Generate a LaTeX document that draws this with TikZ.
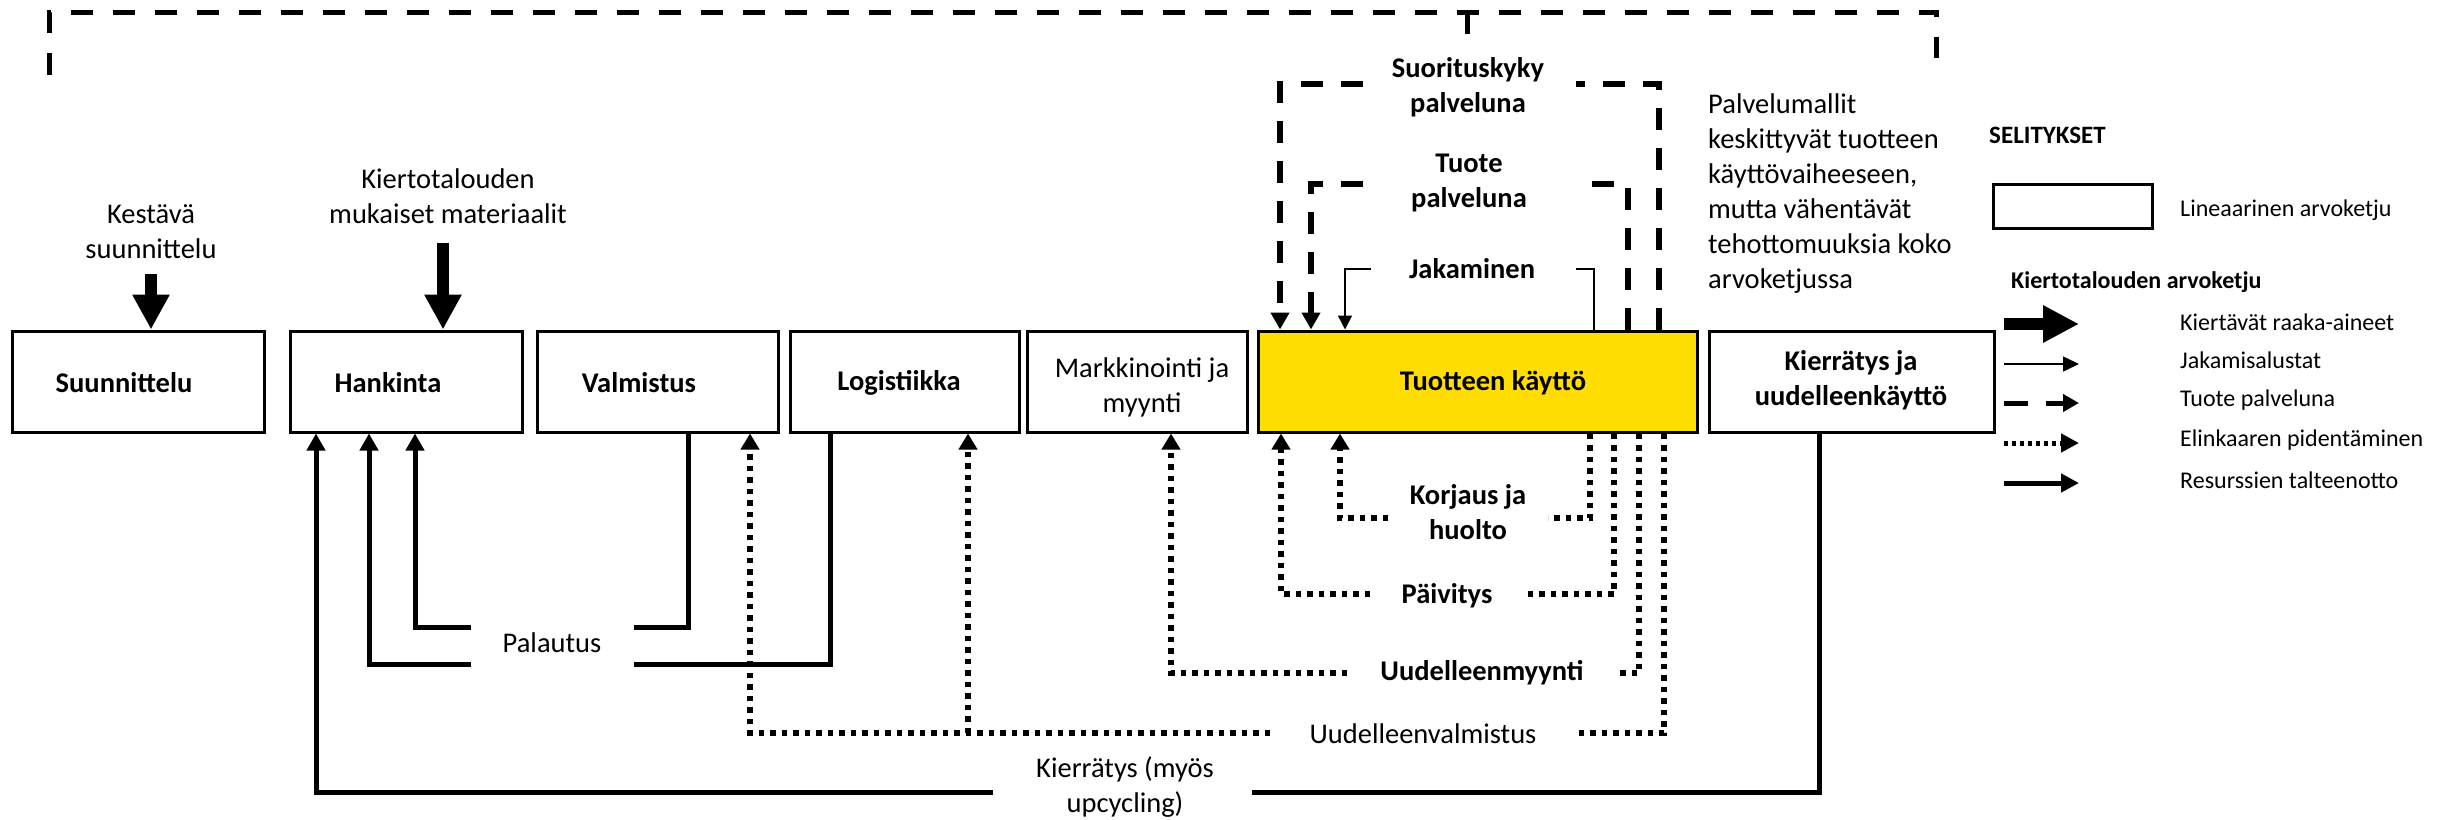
\documentclass[tikz,border=0pt]{standalone}
\usepackage{fontspec}
\setmainfont{Carlito}
\usetikzlibrary{arrows.meta}
\definecolor{useY}{RGB}{255,221,0}
\begin{document}
\begin{tikzpicture}[x=1pt,y=-1pt,
  box/.style={draw=black, line width=3pt, inner sep=0pt, minimum height=101pt},
  lbl/.style={font=\fontsize{28.5}{35}\selectfont, align=center, inner sep=0pt},
  blbl/.style={lbl, font=\fontsize{28.5}{35}\selectfont\bfseries},
  leg/.style={font=\fontsize{24}{29}\selectfont, anchor=west, inner sep=0pt},
  solidc/.style={line width=5pt},
  solidarr/.style={line width=5pt, -{Triangle[length=17pt,width=18pt]}},
  blockarr/.style={line width=12pt, -{Triangle[length=35pt,width=35pt]}},
  dsh/.style={line width=5.5pt, dash pattern=on 22pt off 18pt},
  dsharr/.style={dsh, -{Triangle[length=17pt,width=18pt]}},
  bigdsh/.style={line width=5pt, dash pattern=on 22pt off 20pt},
  dotc/.style={line width=5.5pt, dash pattern=on 5.5pt off 6pt},
  dotarr/.style={dotc, -{Triangle[length=16pt,width=18pt]}},
  thinc/.style={line width=1.5pt},
  thinarr/.style={thinc, -{Triangle[length=14pt,width=14pt]}}
]
\useasboundingbox (0,0) rectangle (2451,819);

% main boxes
\node[box, minimum width=252pt] (suun) at (138,381.5) {};
\node[box, minimum width=232pt] (hank) at (406,381.5) {};
\node[box, minimum width=241pt] (valm) at (657.5,381.5) {};
\node[box, minimum width=229pt] (logi) at (904.5,381.5) {};
\node[box, minimum width=220pt] (mark) at (1137,381.5) {};
\node[box, minimum width=439pt, fill=useY] (use) at (1477.5,381.5) {};
\node[box, minimum width=285pt] (kier) at (1851.5,381.5) {};

\node[blbl] (suunT) at (124,383) {Suunnittelu};
\node[blbl] (hankT) at (388,383) {Hankinta};
\node[blbl] (valmT) at (639,383) {Valmistus};
\node[blbl] (logiT) at (899,383) {Logistiikka};
\node[lbl] (markT) at (1142,387.5) {Markkinointi ja\\myynti};
\node[blbl] (useT) at (1493,383) {Tuotteen käyttö};
\node[blbl] (kierT) at (1851,380.5) {Kierrätys ja\\uudelleenkäyttö};

% inputs from above
\node[lbl] (kest) at (151,232) {Kestävä\\suunnittelu};
\node[lbl] (kmat) at (448,196) {Kiertotalouden\\mukaiset materiaalit};
\coordinate (kestA) at (151,274);
\coordinate (kmatA) at (443,243);
\draw[blockarr] (kestA) -- (suun.north -| kestA);
\draw[blockarr] (kmatA) -- (hank.north -| kmatA);

% top bracket
\draw[bigdsh] (49.5,75) |- (1936,12) -- (1936,58);
\draw[bigdsh] (1467,12) -- (1467,45);

% service loops above the use box
\node[blbl] (suor) at (1468,87.5) {Suorituskyky\\palveluna};
\node[blbl] (tuote) at (1469,182.5) {Tuote\\palveluna};
\node[blbl] (jaka) at (1472,269) {Jakaminen};
\draw[dsh] (use.north -| 1659,0) |- (1576,84);
\draw[dsharr] (1363,84) -| (use.north -| 1280,0);
\draw[dsh] (use.north -| 1628,0) |- (1591,184);
\draw[dsharr] (1363,184) -| (use.north -| 1311,0);
\draw[thinc] (use.north -| 1594,0) |- (1576,269);
\draw[thinarr] (1371,269) -| (use.north -| 1345,0);

% life extension loops below the use box
\node[blbl] (korj) at (1468,512.5) {Korjaus ja\\huolto};
\node[blbl] (paiv) at (1447,596) {Päivitys};
\node[blbl] (umyy) at (1482,673) {Uudelleenmyynti};
\node[lbl] (uval) at (1423,734) {Uudelleenvalmistus};
\draw[dotc] (use.south -| 1590,0) |- (1548,518);
\draw[dotarr] (1388,518) -| (use.south -| 1340,0);
\draw[dotc] (use.south -| 1614,0) |- (1526,594);
\draw[dotarr] (1370,594) -| (use.south -| 1281,0);
\draw[dotc] (use.south -| 1639,0) |- (1617,673);
\draw[dotarr] (1347,673) -| (mark.south -| 1171,0);
\draw[dotc] (use.south -| 1664,0) |- (1575,733);
\draw[dotarr] (1270,733) -| (valm.south -| 750,0);
\draw[dotarr] (968,733) -- (logi.south -| 968,0);

% returns
\node[lbl] (pala) at (552,643) {Palautus};
\draw[solidc] (valm.south -| 688,0) |- (634,627);
\draw[solidarr] (471,627) -| (hank.south -| 415,0);
\draw[solidc] (logi.south -| 830,0) |- (634,664);
\draw[solidarr] (471,664) -| (hank.south -| 369,0);

% recycling
\node[lbl] (kmyo) at (1125,787.5) {Kierrätys (myös\\upcycling)};
\draw[solidc] (kier.south -| 1819,0) |- (1252,792);
\draw[solidarr] (993,792) -| (hank.south -| 316,0);

% text
\node[lbl, align=left, anchor=west] (palv) at (1708,194) {Palvelumallit\\keskittyvät tuotteen\\käyttövaiheeseen,\\mutta vähentävät\\tehottomuuksia koko\\arvoketjussa};

% legend
\node[leg, font=\fontsize{25}{30}\selectfont\bfseries] (selit) at (1989,135) {SELITYKSET};
\node[draw=black, line width=3pt, minimum width=159pt, minimum height=44pt, inner sep=0pt] (legbox) at (2072.5,206) {};
\node[leg] (legL) at (2180,210) {Lineaarinen arvoketju};
\node[leg, font=\fontsize{24}{29}\selectfont\bfseries] (legK) at (2011,282) {Kiertotalouden arvoketju};
\coordinate (a1) at (2004,324); \coordinate (b1) at (2079,324);
\coordinate (a2) at (2004,364); \coordinate (b2) at (2079,364);
\coordinate (a3) at (2004,403); \coordinate (b3) at (2079,403);
\coordinate (a4) at (2004,443); \coordinate (b4) at (2079,443);
\coordinate (a5) at (2004,483); \coordinate (b5) at (2079,483);
\draw[line width=12pt, -{Triangle[length=36pt,width=35pt]}] (a1) -- (b1);
\draw[line width=1.5pt, -{Triangle[length=16pt,width=15pt]}] (a2) -- (b2);
\draw[line width=5pt, dash pattern=on 24pt off 18pt, -{Triangle[length=16pt,width=17pt]}] (a3) -- (b3);
\draw[line width=5pt, dash pattern=on 4pt off 4pt, -{Triangle[length=18pt,width=18pt]}] (a4) -- (b4);
\draw[line width=5pt, -{Triangle[length=18pt,width=18pt]}] (a5) -- (b5);
\node[leg] (l1) at (2180,322) {Kiertävät raaka-aineet};
\node[leg] (l2) at (2180,360) {Jakamisalustat};
\node[leg] (l3) at (2180,400) {Tuote palveluna};
\node[leg] (l4) at (2180,440) {Elinkaaren pidentäminen};
\node[leg] (l5) at (2180,480) {Resurssien talteenotto};
\end{tikzpicture}
\end{document}
